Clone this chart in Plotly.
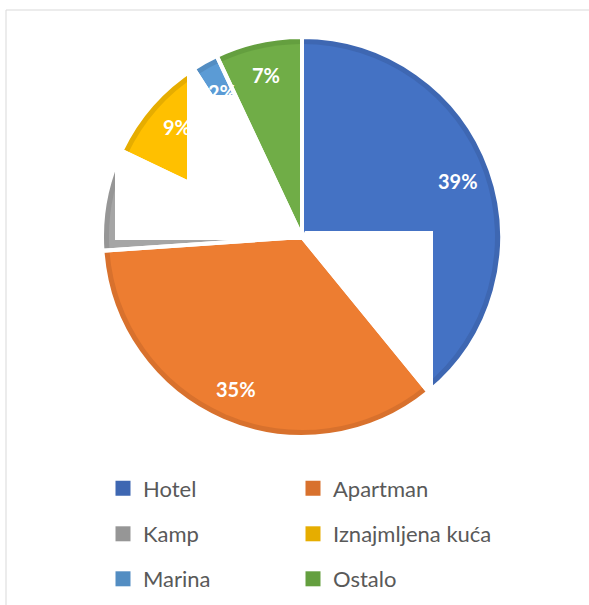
import numpy as np
import plotly.graph_objects as go

# data
labels = ["Hotel", "Apartman", "Kamp", "Iznajmljena kuća", "Marina", "Ostalo"]
values = [39.1, 34.8, 8.2, 8.8, 2.1, 7.0]
face_colors = ["#4472C4", "#ED7D31", "#A5A5A5", "#FFC000", "#5B9BD5", "#70AD47"]
rim_colors = ["#3E67B2", "#D8712D", "#969696", "#E6AD00", "#538DC2", "#649F3F"]

W, H = 589, 605
CX, CY, R = 302, 237, 200
RIM = 7


def px(x):
    return x / W


def py(y):
    return 1 - y / H


def polar(angle, r):
    a = np.radians(angle)
    return CX + r * np.sin(a), CY - r * np.cos(a)


def radial_at_x(angle, x):
    a = np.radians(angle)
    t = (x - CX) / np.sin(a)
    return x, CY - t * np.cos(a)


def radial_at_y(angle, y):
    a = np.radians(angle)
    t = (CY - y) / np.cos(a)
    return CX + t * np.sin(a), y


def dom(r):
    return dict(x=[px(CX - r), px(CX + r)], y=[py(CY + r), py(CY - r)])


def path(points):
    pts = [f"{px(x):.5f},{py(y):.5f}" for x, y in points]
    return "M " + " L ".join(pts) + " Z"


fig = go.Figure()

pie_common = dict(labels=labels, values=values, sort=False, direction="clockwise",
                  rotation=0, textinfo="none", hoverinfo="label+percent", showlegend=False)
# darker rim, lighter face, then white gaps between slices
fig.add_trace(go.Pie(**pie_common, domain=dom(R),
                     marker=dict(colors=rim_colors, line=dict(width=0))))
fig.add_trace(go.Pie(**pie_common, domain=dom(R - RIM),
                     marker=dict(colors=face_colors, line=dict(width=0))))
fig.add_trace(go.Pie(**pie_common, domain=dom(R),
                     marker=dict(colors=["rgba(0,0,0,0)"] * len(labels),
                                 line=dict(color="white", width=4))))

# percentage labels
total = sum(values)
cum = np.cumsum(values) / total * 360
annotations = []
start = 0.0
for lab, v in zip(labels, values):
    frac = v / total
    mid = (start + frac / 2) * 360
    x, y = polar(mid, 0.83 * R)
    annotations.append(dict(x=px(x), y=py(y), xref="paper", yref="paper",
                            xanchor="center", yanchor="middle",
                            text=f"{round(frac * 100)}%", showarrow=False,
                            font=dict(family="Lato", size=20, color="white", weight="bold")))
    start += frac

# white blocks that cut through the picture
a1, a2, a3, a4, a5 = cum[:5]
w1 = [(115, 240), radial_at_x(a3, 115), radial_at_x(a3, 187), (187, 60), (209, 95),
      radial_at_y(a5, 95), (CX, CY), (CX, 240)]
w2 = [(305, 231), (433, 231), (433, 395), polar(a1, R + 10), (CX, CY)]
shapes = [
    dict(type="path", path=path(w1), xref="paper", yref="paper",
         fillcolor="white", line=dict(width=0), layer="above"),
    dict(type="path", path=path(w2), xref="paper", yref="paper",
         fillcolor="white", line=dict(width=0), layer="above"),
    dict(type="rect", xref="paper", yref="paper", x0=px(6), y0=py(10), x1=1.05, y1=-0.05,
         line=dict(color="#D9D9D9", width=1), fillcolor="rgba(0,0,0,0)", layer="below"),
]

# legend: 2 columns x 3 rows
col_x = [103, 293]
row_y = [488.5, 534, 579]
legend_layout = {}
for i, lab in enumerate(labels):
    key = "legend" if i == 0 else f"legend{i + 1}"
    fig.add_trace(go.Scatter(x=[None], y=[None], mode="markers", name=lab,
                             marker=dict(symbol="square", size=15, color=rim_colors[i]),
                             legend=key, hoverinfo="skip"))
    legend_layout[key] = dict(x=px(col_x[i % 2]), y=py(row_y[i // 2]),
                              xanchor="left", yanchor="middle",
                              bgcolor="rgba(0,0,0,0)",
                              font=dict(family="Lato", size=22, color="#595959"))

fig.update_layout(
    width=W, height=H,
    margin=dict(l=0, r=0, t=0, b=0),
    paper_bgcolor="white", plot_bgcolor="white",
    xaxis=dict(visible=False), yaxis=dict(visible=False),
    annotations=annotations, shapes=shapes,
    **legend_layout,
)

fig.write_html("out.html", config={"displayModeBar": False},
               post_script="document.body.style.margin = '0';")
